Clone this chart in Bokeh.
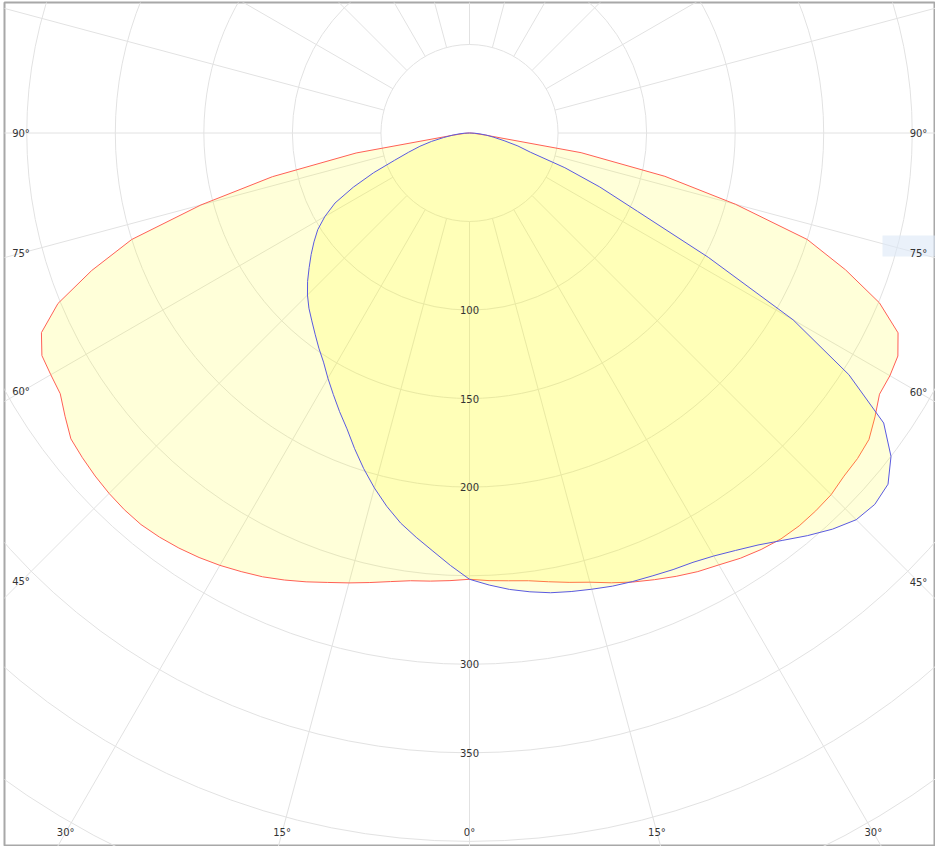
import math
from bokeh.plotting import figure
from bokeh.core.properties import value
from bokeh.embed import file_html
from bokeh.resources import INLINE

# ---- data (intensity per gamma angle, 0..90 deg in 2.5 deg steps) ----
gamma = [0, 2.5, 5, 7.5, 10, 12.5, 15, 17.5, 20, 22.5, 25, 27.5, 30, 32.5, 35, 37.5,
         40, 42.5, 45, 47.5, 50, 52.5, 55, 57.5, 60, 62.5, 65, 67.5, 70, 72.5, 75,
         77.5, 80, 82.5, 85, 87.5, 90]

red_left = [252, 253, 254, 255, 257.2, 260, 263, 266.1, 269.7, 273.2, 276.5, 279.2,
            281.9, 284.2, 286.1, 287.6, 288.6, 288.5, 287.8, 286.7, 285.3, 283.7,
            278.8, 274, 273, 272.2, 266.7, 251.5, 227, 200, 157, 114, 65, 9, 3, 1, 0]
red_right = [252, 253, 253.8, 255, 257.3, 259.9, 262.6, 266.3, 269.8, 273, 276.2,
             279.2, 281.6, 284.7, 287.1, 288.9, 289.6, 289.4, 288.8, 286.8, 286,
             284.3, 279.5, 274.5, 274.1, 272.7, 267, 250.5, 226, 200, 155.5, 113, 64,
             9, 3, 1, 0]
blue_left = [252, 244.5, 237, 230.3, 223.7, 215.9, 207.5, 198.7, 189.7, 180.8, 173.6,
             166.5, 159.9, 153.4, 148.3, 143.2, 138.5, 134.2, 129.4, 124, 118.2, 112.7,
             107.2, 101.6, 94.3, 85.6, 72.4, 58.6, 45, 36, 29, 22, 15, 10, 6, 3, 0]
blue_right = [252, 255.5, 258.7, 261.3, 263.6, 265.2, 266.7, 268.3, 269.5, 270.6, 272,
              273.3, 275.8, 279.5, 284, 290, 296.8, 303.4, 308.8, 310.4, 308.5, 300,
              285.5, 254, 211, 152, 104.7, 79.6, 57.3, 36, 28.3, 20, 14, 10, 6, 3, 0]

ring_values = [50, 100, 150, 200, 250, 300, 350, 400, 450]
ring_labels = [100, 150, 200, 300, 350]
spoke_angles = list(range(0, 360, 15))
side_label_angles = [90, 75, 60, 45]
bottom_label_angles = [-30, -15, 0, 15, 30]

# ---- geometry / style (page pixels) ----
W, H = 935, 846
FL, FT = 4, 2               # frame left / top offset
SCALE = 1.771               # px per intensity unit
CX, CY = 469, 132.5         # centre on page
x0 = -(CX - FL) / SCALE
x1 = (W - CX) / SCALE
y1 = (CY - FT) / SCALE
y0 = -(H - CY) / SCALE

p = figure(width=W, height=H, x_range=(x0, x1), y_range=(y0, y1),
           output_backend="svg", toolbar_location=None,
           min_border_left=FL, min_border_top=FT, min_border_right=0, min_border_bottom=0,
           x_axis_location=None, y_axis_location=None,
           background_fill_color="white", border_fill_color="white",
           outline_line_color="#a8a8a8", outline_line_width=2)
p.grid.visible = False

GRID = "#e2e2e2"

# rings
p.circle(x=[0] * len(ring_values), y=[0] * len(ring_values), radius=ring_values,
         fill_color=None, line_color=GRID, line_width=1)

# spokes (start at first ring)
sx0, sy0, sx1, sy1 = [], [], [], []
for a in spoke_angles:
    t = math.radians(a)
    sx0.append(50 * math.sin(t)); sy0.append(-50 * math.cos(t))
    sx1.append(800 * math.sin(t)); sy1.append(-800 * math.cos(t))
p.segment(x0=sx0, y0=sy0, x1=sx1, y1=sy1, line_color=GRID, line_width=1)


def polar_curve(left, right):
    angs = [-g for g in reversed(gamma)] + gamma[1:]
    vals = list(reversed(left)) + right[1:]
    xs = [v * math.sin(math.radians(a)) for a, v in zip(angs, vals)]
    ys = [-v * math.cos(math.radians(a)) for a, v in zip(angs, vals)]
    return xs, ys


rx, ry = polar_curve(red_left, red_right)
bx, by = polar_curve(blue_left, blue_right)
p.patch(rx, ry, fill_color="#ffff00", fill_alpha=0.15, line_color="#ff6055", line_width=1)
p.patch(bx, by, fill_color="#ffff00", fill_alpha=0.15, line_color="#5a5ae0", line_width=1)

# faint tooltip remnant at right edge
p.quad(left=[(882 - CX) / SCALE], right=[(960 - CX) / SCALE],
       top=[-(235 - CY) / SCALE], bottom=[-(256 - CY) / SCALE],
       fill_color="#dce8f7", fill_alpha=0.6, line_color=None)

TXT = "#333333"
FONT = value("DejaVu Sans")

# radial value labels
p.text(x=[0] * len(ring_labels), y=[-v for v in ring_labels], text=[str(v) for v in ring_labels],
       text_align="center", text_baseline="middle", text_font=FONT,
       text_font_size="10px", text_color=TXT)

# angle labels on the sides and bottom
XL = (20.5 - CX) / SCALE
XR = (918 - CX) / SCALE
YB = -(832 - CY) / SCALE
lx, ly, lt = [], [], []
for g in side_label_angles:
    t = math.radians(g)
    for xe in (XL, XR):
        lx.append(xe)
        ly.append(-abs(xe) * math.cos(t) / math.sin(t))
        lt.append(f"{g}°")
for g in bottom_label_angles:
    lx.append(-YB * math.tan(math.radians(g)))
    ly.append(YB)
    lt.append(f"{abs(g)}°")
p.text(x=lx, y=ly, text=lt, text_align="center", text_baseline="middle",
       text_font=FONT, text_font_size="10px", text_color=TXT)

open("out.html", "w").write(file_html(p, INLINE))
